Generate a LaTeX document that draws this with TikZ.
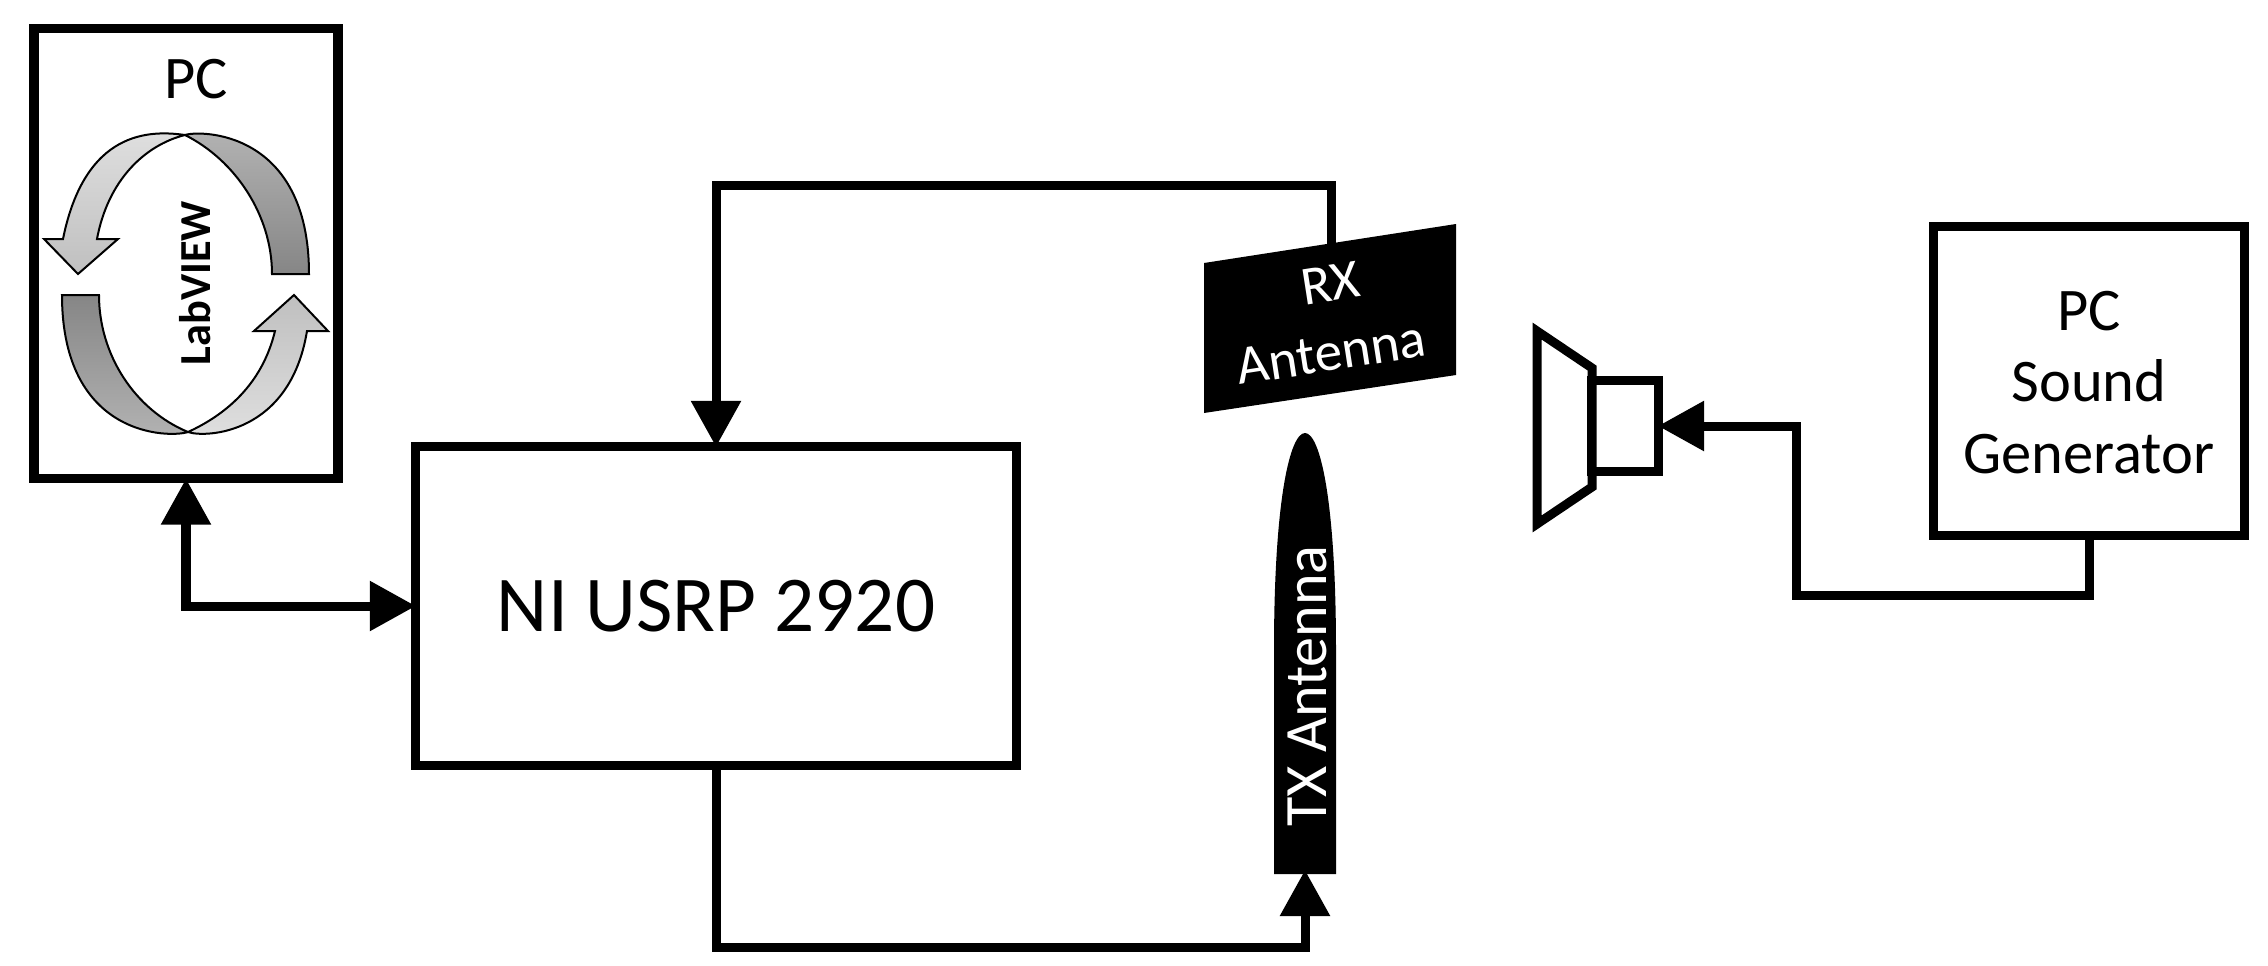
\documentclass[tikz,border=0pt]{standalone}
\usepackage{fontspec}
\setmainfont{Carlito}
\usetikzlibrary{arrows.meta}
\tikzset{
  boxnode/.style={draw,line width=.09cm,inner sep=0pt,outer sep=0pt,align=center},
  wire/.style={line width=.09cm,>={Triangle[length=.46cm,width=.48cm]}},
  loopshade/.style={draw=black,line width=.02cm},
  textsmall/.style={font=\fontsize{17.2}{20.4}\selectfont,inner sep=0pt},
  textbig/.style={font=\fontsize{22.5}{27}\selectfont},
  whitetext/.style={text=white,inner sep=0pt}
}
\begin{document}
\begin{tikzpicture}[x=.01cm,y=-.01cm]
\useasboundingbox (0,0) rectangle (2268,966);
\node[boxnode,line width=.095cm,minimum width=3.04cm,minimum height=4.50cm] (pc) at (186,253.5) {};
\node[textsmall] (pclabel) at (196,79) {PC};
\node[boxnode,textbig,minimum width=6.00cm,minimum height=3.18cm] (usrp) at (716,606) {NI USRP 2920};
\node[boxnode,minimum width=3.105cm,minimum height=3.085cm] (sound) at (2089,381) {};
\node[textsmall,align=center] (soundlabel) at (2089,382.5) {PC\\Sound\\Generator};
\node[boxnode,minimum width=.66cm,minimum height=.90cm] (spkback) at (1625,426) {};
\draw[line width=.09cm] (1537,331) -- (1592,368) -- (1592,487) -- (1537,524) -- cycle;
\shade[loopshade,top color=gray!25,bottom color=gray!50] (185,135) .. controls (150,130) and (85,130) .. (63,239) -- (44,239) -- (78,274) -- (118,239) -- (97,239) .. controls (108,180) and (145,145) .. (185,135) -- cycle;
\shade[loopshade,top color=gray!60,bottom color=gray!95] (185,135) .. controls (200,130) and (309,130) .. (309,274) -- (272,274) .. controls (272,215) and (235,160) .. (185,135) -- cycle;
\shade[loopshade,top color=gray!95,bottom color=gray!60] (188,432) .. controls (170,438) and (62,438) .. (62,295) -- (99,295) .. controls (99,355) and (135,410) .. (188,432) -- cycle;
\shade[loopshade,top color=gray!50,bottom color=gray!25] (188,432) .. controls (205,438) and (290,435) .. (307,331) -- (328,331) -- (294,295) -- (254,331) -- (275,331) .. controls (262,385) and (225,415) .. (188,432) -- cycle;
\node[font=\fontsize{12.6}{15}\selectfont\bfseries,rotate=90,anchor=base,inner sep=0pt] (labview) at (210,283) {LabVIEW};
\fill (1204,263) -- (1456,224) -- (1456,375) -- (1204,413) -- cycle;
\node[whitetext,rotate=8.8,align=center,font=\fontsize{15.7}{19.6}\selectfont] (rxlabel) at (1326,319) {\hspace*{.2cm}RX\\Antenna};
\fill (1274,874) -- (1274,650) .. controls (1274,500) and (1290,433) .. (1305,433) .. controls (1320,433) and (1336,500) .. (1336,650) -- (1336,874) -- cycle;
\node[whitetext,rotate=90,anchor=base,font=\fontsize{17.1}{20}\selectfont] (txlabel) at (1326,686) {TX Antenna};
\coordinate (rxtop) at (1331,245);
\coordinate (txfoot) at (1305,870);
\coordinate (bend) at (1796.5,595.5);
\draw[wire,<->] (pc.south) |- (usrp.west);
\draw[wire,->] (rxtop) -- ++(0,-60) -| (usrp.north);
\draw[wire,->] (usrp.south) -- ++(0,182) -| (txfoot);
\draw[wire,->] (sound.south) |- (bend) |- (spkback.east);
\end{tikzpicture}
\end{document}
